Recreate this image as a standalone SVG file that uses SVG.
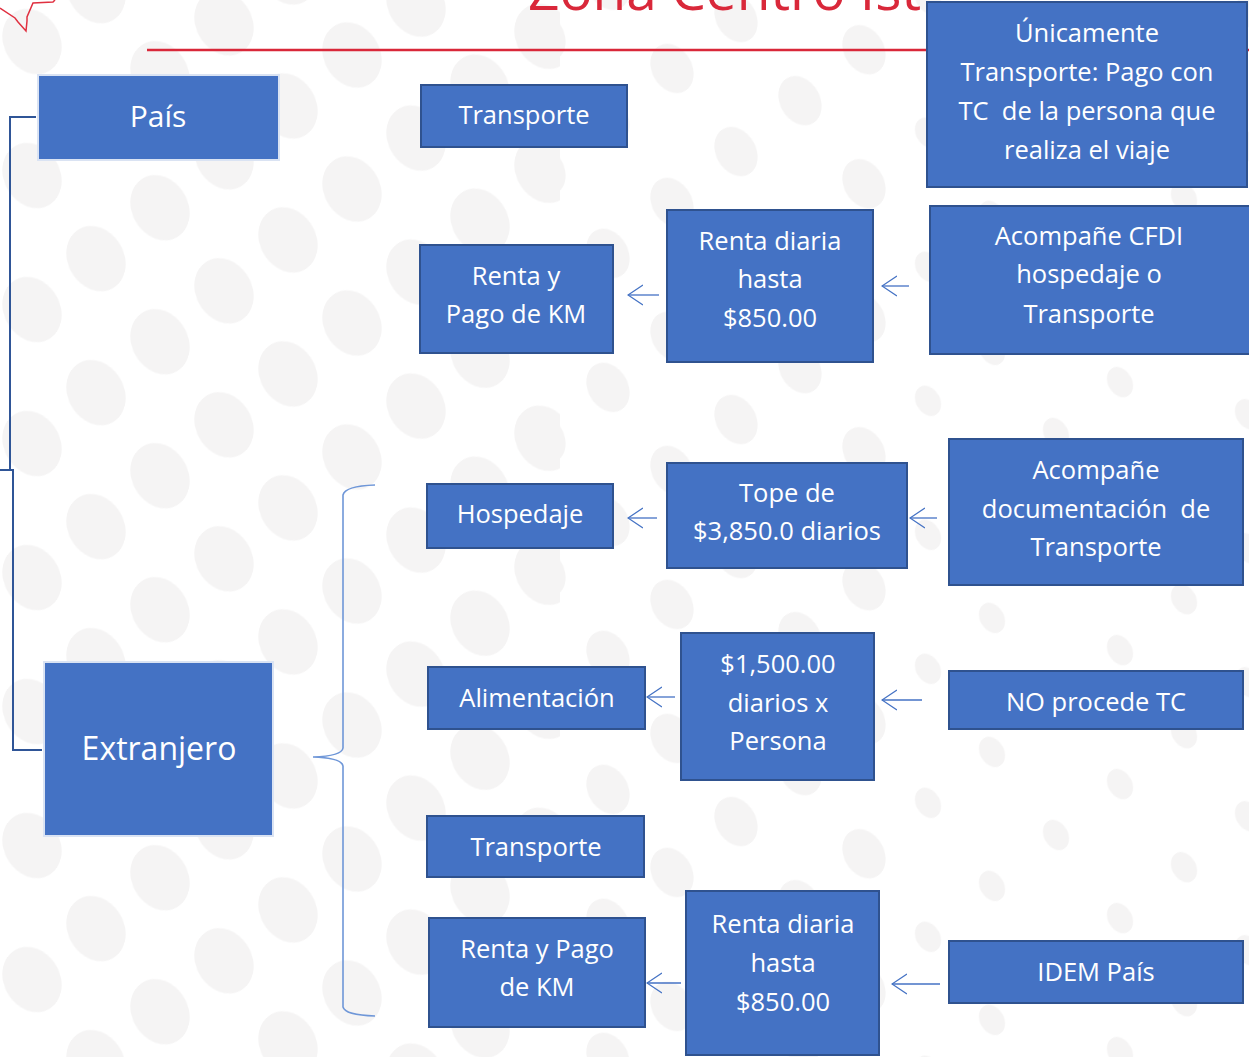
<svg xmlns="http://www.w3.org/2000/svg" width="1249" height="1057" viewBox="0 0 1249 1057">
<style>
.box{fill:#4472c4;stroke:#2f528f;stroke-width:2}
.boxw{fill:#4472c4;stroke:#dae3f3;stroke-width:2}
.t{font-family:"Open Sans","Noto Sans",sans-serif;font-size:25.5px;fill:#ffffff;text-anchor:middle;white-space:pre}
.arr{stroke:#4472c4;stroke-width:1.3;fill:none;marker-end:url(#ah)}
.dot{fill:#f5f4f4}
</style>
<defs>
<marker id="ah" markerUnits="userSpaceOnUse" viewBox="0 0 16 22" markerWidth="16" markerHeight="22" refX="15" refY="11" orient="auto">
<path d="M0,1 L15,11 L0,21" fill="none" stroke="#4472c4" stroke-width="1.3"/>
</marker>
<pattern id="pL" patternUnits="userSpaceOnUse" width="64" height="134" patternTransform="skewY(-38.5)">
<ellipse cx="0" cy="0" rx="28" ry="34" class="dot" transform="translate(32,67) skewY(38.5) rotate(-30)"/>
</pattern>
<pattern id="pM" patternUnits="userSpaceOnUse" width="64" height="134" patternTransform="skewY(-38.5)">
<ellipse cx="0" cy="0" rx="20" ry="26" class="dot" transform="translate(32,67) skewY(38.5) rotate(-30)"/>
</pattern>
<pattern id="pS" patternUnits="userSpaceOnUse" width="64" height="134" patternTransform="skewY(-38.5)">
<ellipse cx="0" cy="0" rx="12" ry="16" class="dot" transform="translate(32,67) skewY(38.5) rotate(-30)"/>
</pattern>
</defs>
<rect x="0" y="0" width="1249" height="1057" fill="#ffffff"/>
<g id="background">
<rect x="0" y="0" width="560" height="1057" fill="url(#pL)"/>
<rect x="560" y="0" width="330" height="1057" fill="url(#pM)"/>
<rect x="890" y="0" width="359" height="1057" fill="url(#pS)"/>
</g>
<g id="header">
<path d="M0,8 L15,18 L18,22 L26,31 L27,21 L27,17 L33,3 L53,2 L55,0" fill="none" stroke="#e03040" stroke-width="1.5"/>
<text x="528" y="10" font-family="Open Sans, Noto Sans, sans-serif" font-size="55" fill="#d9283a">Zona Centro Ist</text>
<line x1="147" y1="50" x2="1249" y2="50" stroke="#d9283a" stroke-width="2.5"/>
</g>
<g id="connectors">
<path d="M36,117 H10 V470 M0,470 H13 V750 H42" fill="none" stroke="#2f5597" stroke-width="2"/>
<path d="M375,485 Q345,486 343,495 V748 Q342,756 313,757 Q342,758 343,766 V1007 Q345,1015 375,1016" fill="none" stroke="#6f97d8" stroke-width="1.6"/>
<line class="arr" x1="659" y1="295" x2="628" y2="295"/>
<line class="arr" x1="909" y1="286" x2="882" y2="286"/>
<line class="arr" x1="657" y1="518" x2="628" y2="518"/>
<line class="arr" x1="937" y1="518" x2="910" y2="518"/>
<line class="arr" x1="675" y1="697" x2="647" y2="697"/>
<line class="arr" x1="922" y1="700" x2="882" y2="700"/>
<line class="arr" x1="681" y1="983" x2="647" y2="983"/>
<line class="arr" x1="940" y1="984" x2="892" y2="984"/>
</g>
<g id="n-pais"><rect class="boxw" x="38" y="75" width="241" height="85"/><text class="t" x="158" y="127" style="font-size:30px">País</text></g>
<g id="n-transporte1"><rect class="box" x="421" y="85" width="206" height="62"/><text class="t" x="524" y="124">Transporte</text></g>
<g id="n-unicamente"><rect class="box" x="927" y="2" width="320" height="185"/>
<text class="t" x="1087" y="42">Únicamente</text><text class="t" x="1087" y="81">Transporte: Pago con</text><text class="t" x="1087" y="120" xml:space="preserve">TC  de la persona que</text><text class="t" x="1087" y="159">realiza el viaje</text></g>
<g id="n-renta1"><rect class="box" x="420" y="245" width="193" height="108"/><text class="t" x="516" y="285">Renta y</text><text class="t" x="516" y="323">Pago de KM</text></g>
<g id="n-diaria1"><rect class="box" x="667" y="210" width="206" height="152"/><text class="t" x="770" y="250">Renta diaria</text><text class="t" x="770" y="288">hasta</text><text class="t" x="770" y="327">$850.00</text></g>
<g id="n-cfdi"><rect class="box" x="930" y="206" width="320" height="148"/><text class="t" x="1089" y="245">Acompañe CFDI</text><text class="t" x="1089" y="283">hospedaje o</text><text class="t" x="1089" y="323">Transporte</text></g>
<g id="n-hospedaje"><rect class="box" x="427" y="484" width="186" height="64"/><text class="t" x="520" y="523">Hospedaje</text></g>
<g id="n-tope"><rect class="box" x="667" y="463" width="240" height="105"/><text class="t" x="787" y="502">Tope de</text><text class="t" x="787" y="540">$3,850.0 diarios</text></g>
<g id="n-docs"><rect class="box" x="949" y="439" width="294" height="146"/><text class="t" x="1096" y="479">Acompañe</text><text class="t" x="1096" y="518" xml:space="preserve">documentación  de</text><text class="t" x="1096" y="556">Transporte</text></g>
<g id="n-extranjero"><rect class="boxw" x="44" y="662" width="229" height="174"/><text class="t" x="159" y="760" style="font-size:32px">Extranjero</text></g>
<g id="n-alimentacion"><rect class="box" x="428" y="667" width="217" height="62"/><text class="t" x="537" y="707">Alimentación</text></g>
<g id="n-1500"><rect class="box" x="681" y="633" width="193" height="147"/><text class="t" x="778" y="673">$1,500.00</text><text class="t" x="778" y="712">diarios x</text><text class="t" x="778" y="750">Persona</text></g>
<g id="n-notc"><rect class="box" x="949" y="671" width="294" height="58"/><text class="t" x="1096" y="711">NO procede TC</text></g>
<g id="n-transporte2"><rect class="box" x="427" y="816" width="217" height="61"/><text class="t" x="536" y="856">Transporte</text></g>
<g id="n-renta2"><rect class="box" x="429" y="918" width="216" height="109"/><text class="t" x="537" y="958">Renta y Pago</text><text class="t" x="537" y="996">de KM</text></g>
<g id="n-diaria2"><rect class="box" x="686" y="891" width="193" height="164"/><text class="t" x="783" y="933">Renta diaria</text><text class="t" x="783" y="972">hasta</text><text class="t" x="783" y="1011">$850.00</text></g>
<g id="n-idem"><rect class="box" x="949" y="941" width="294" height="62"/><text class="t" x="1096" y="981">IDEM País</text></g>
</svg>
